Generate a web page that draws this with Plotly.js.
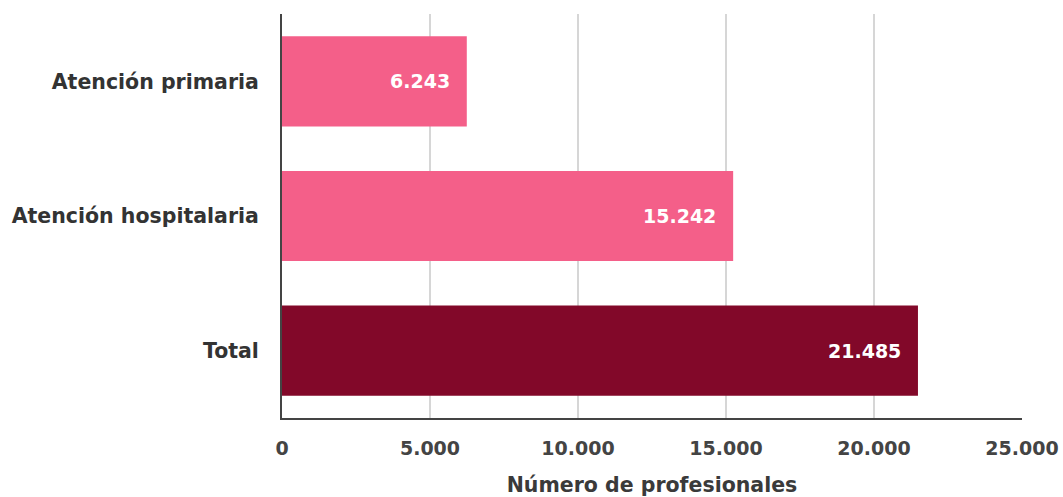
<!DOCTYPE html>
<html><head><meta charset="utf-8">
<script src="https://cdn.plot.ly/plotly-3.0.1.min.js"></script>
<style>body{margin:0}#c{width:1063px;height:497px}</style>
</head><body><div id="c"></div>
<script>
const categories = ["Atención primaria", "Atención hospitalaria", "Total"];
const values = [6243, 15242, 21485];
const labels = ["6.243", "15.242", "21.485"];
const colors = ["#F45F89", "#F45F89", "#820829"];
const tickVals = [0, 5000, 10000, 15000, 20000, 25000];
const tickText = ["0", "5.000", "10.000", "15.000", "20.000", "25.000"];

const FONT = "'DejaVu Sans', sans-serif";
const trace = {
  type: "bar", orientation: "h",
  y: categories, x: values,
  marker: {color: colors},
  hoverinfo: "none"
};
const annotations = categories.map((c, i) => ({
  x: values[i], y: c, xref: "x", yref: "y",
  text: "<b>" + labels[i] + "</b>", showarrow: false,
  xanchor: "right", xshift: -15,
  font: {family: FONT, size: 19, color: "#ffffff"}
}));
const layout = {
  width: 1063, height: 497,
  margin: {l: 282, r: 41, t: 14, b: 79},
  paper_bgcolor: "#fff", plot_bgcolor: "#fff",
  bargap: 0.33,
  showlegend: false,
  annotations: annotations,
  xaxis: {
    range: [0, 25000], tickvals: tickVals, ticktext: tickText,
    showgrid: true, gridcolor: "#d6d6d6", gridwidth: 1.5,
    zeroline: false, showline: true, linecolor: "#444", linewidth: 2,
    ticks: "", ticklabelstandoff: 12,
    tickfont: {family: FONT, size: 19, color: "#444", weight: "bold"},
    title: {text: "<b>Número de profesionales</b>", standoff: 22,
      font: {family: FONT, size: 20.5, color: "#3a3a3a"}}
  },
  yaxis: {
    autorange: "reversed", showline: true, linecolor: "#444", linewidth: 2,
    ticks: "", ticklabelstandoff: 17, showgrid: false,
    tickfont: {family: FONT, size: 20.5, color: "#333", weight: "bold"}
  }
};
Plotly.newPlot("c", [trace], layout, {displayModeBar: false, staticPlot: true});
</script></body></html>
